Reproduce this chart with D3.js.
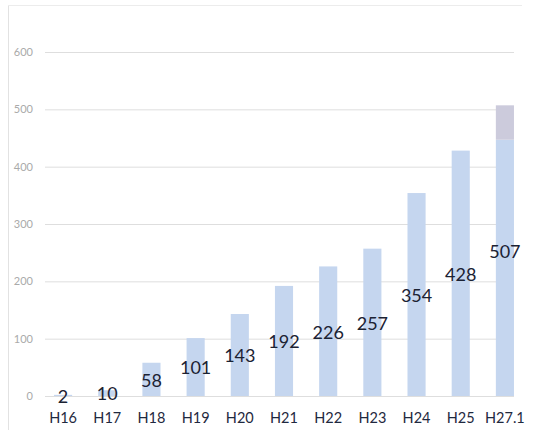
<!DOCTYPE html>
<html>
<head>
<meta charset="utf-8">
<script src="https://cdn.jsdelivr.net/npm/d3@7"></script>
<style>
  body { margin: 0; background: #fff; }
  svg { display: block; }
</style>
</head>
<body>
<script>
// chart data
const years = ["H16", "H17", "H18", "H19", "H20", "H21", "H22", "H23", "H24", "H25", "H27.1"]
const totals = [2, 10, 58, 101, 143, 192, 226, 257, 354, 428, 507]
// last bar has a greyish top segment in the picture
const lower = [2, 10, 58, 101, 143, 192, 226, 257, 354, 428, 447]
const upper = [0, 0, 0, 0, 0, 0, 0, 0, 0, 0, 60]
const yTicks = [0, 100, 200, 300, 400, 500, 600]

const m = { width: 540, height: 430 }

const svg = d3.select("body").append("svg")
    .attr("width", m.width)
    .attr("height", m.height)

// frame lines (left + top)
svg.append("line")
    .attr("x1", 8.5).attr("x2", 8.5)
    .attr("y1", 5).attr("y2", m.height)
    .attr("stroke", "#e2e2e2")
svg.append("line")
    .attr("x1", 8).attr("x2", 522)
    .attr("y1", 5.5).attr("y2", 5.5)
    .attr("stroke", "#ececec")

const x = d3.scaleBand()
    .domain(years)
    .range([41, 527])
    .paddingInner(0.59)
    .paddingOuter(0.295)

const y = d3.scaleLinear()
    .domain([0, 600])
    .range([396, 52])

// gridlines + tick labels
const yAxis = d3.axisLeft(y)
    .tickValues(yTicks)
    .tickSize(-(514 - 45))
    .tickPadding(12)

svg.append("g")
    .attr("transform", "translate(45,0)")
    .call(yAxis)
    .call(g => g.select(".domain").remove())
    .call(g => g.selectAll(".tick line").attr("stroke", "#dedede"))
    .call(g => g.selectAll(".tick text")
        .attr("fill", "#aaaaaa")
        .attr("font-family", "Lato, 'DejaVu Sans', sans-serif")
        .attr("font-size", 11))

const data = years.map(function (d, i) {
    return { year: d, lower: lower[i], upper: upper[i], total: totals[i] }
})
const stacked = d3.stack().keys(["lower", "upper"])(data)
const colors = { lower: "#c5d6ef", upper: "#cccbdc" }

svg.append("g").selectAll("g")
    .data(stacked)
    .enter()
    .append("g")
    .attr("fill", function (s) { return colors[s.key] })
    .selectAll("rect")
    .data(function (s) { return s })
    .enter()
    .append("rect")
    .attr("x", function (d) { return x(d.data.year) })
    .attr("y", function (d) { return y(d[1]) })
    .attr("width", x.bandwidth())
    .attr("height", function (d) { return y(d[0]) - y(d[1]) })

// value labels, centred halfway up the bar
svg.append("g").selectAll("text")
    .data(data)
    .enter()
    .append("text")
    .attr("x", function (d) { return x(d.year) + x.bandwidth() / 2 })
    .attr("y", function (d) { return y(d.total / 2) + 1 })
    .attr("dy", "0.35em")
    .attr("text-anchor", "middle")
    .attr("fill", "#1b2233")
    .attr("font-family", "Lato, 'DejaVu Sans', sans-serif")
    .attr("font-size", 18)
    .text(function (d) { return d.total })

// category labels
svg.append("g").selectAll("text")
    .data(years)
    .enter()
    .append("text")
    .attr("x", function (d) { return x(d) + x.bandwidth() / 2 })
    .attr("y", 418)
    .attr("dy", "0.35em")
    .attr("text-anchor", "middle")
    .attr("fill", "#1f2940")
    .attr("font-family", "Lato, 'DejaVu Sans', sans-serif")
    .attr("font-size", 14.5)
    .text(function (d) { return d })
</script>
</body>
</html>
